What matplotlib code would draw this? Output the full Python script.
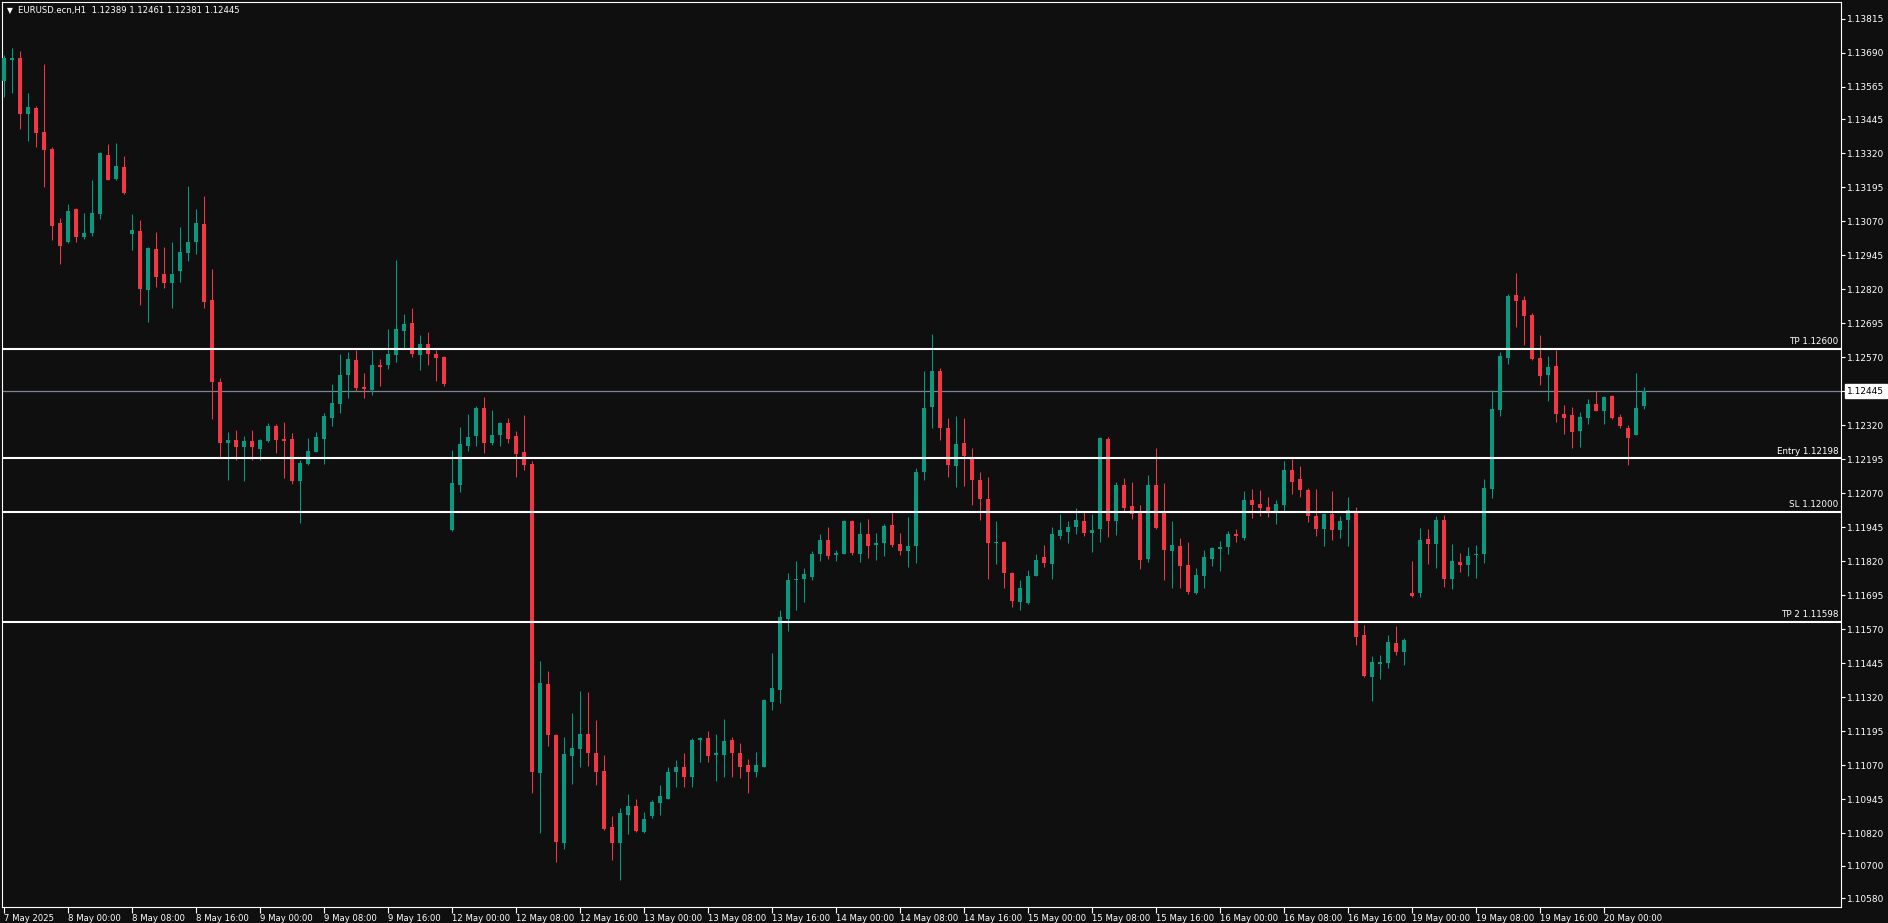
import numpy as np
import pandas as pd
import matplotlib
matplotlib.use("Agg")
import matplotlib.pyplot as plt
import matplotlib.transforms as mtransforms

symbol = "EURUSD.ecn,H1"

# hourly bars, 7 May 16:00 .. 20 May 05:00
opens = [
    1.13587, 1.13662, 1.13670, 1.13465, 1.13486, 1.13398, 1.13335, 1.13063, 1.12995, 1.13115,
    1.13010, 1.13028, 1.13098, 1.13313, 1.13226, 1.13269, 1.13021, 1.13034, 1.12818, 1.12968,
    1.12876, 1.12844, 1.12888, 1.12954, 1.12995, 1.13060, 1.12780, 1.12479, 1.12256, 1.12266,
    1.12241, 1.12262, 1.12234, 1.12262, 1.12317, 1.12269, 1.12269, 1.12116, 1.12179, 1.12223,
    1.12269, 1.12348, 1.12399, 1.12505, 1.12560, 1.12461, 1.12451, 1.12541, 1.12541, 1.12578,
    1.12666, 1.12696, 1.12578, 1.12619, 1.12582, 1.12571, 1.11935, 1.12100, 1.12243, 1.12280,
    1.12383, 1.12254, 1.12283, 1.12327, 1.12280, 1.12221, 1.12177, 1.11042, 1.11368, 1.11182,
    1.10785, 1.11105, 1.11131, 1.11186, 1.11116, 1.11050, 1.10844, 1.10785, 1.10888, 1.10921,
    1.10826, 1.10884, 1.10932, 1.10947, 1.11043, 1.11065, 1.11025, 1.11161, 1.11168, 1.11109,
    1.11109, 1.11161, 1.11113, 1.11069, 1.11043, 1.11065, 1.11304, 1.11348, 1.11609, 1.11749,
    1.11756, 1.11763, 1.11848, 1.11896, 1.11844, 1.11848, 1.11969, 1.11848, 1.11921, 1.11881,
    1.11885, 1.11954, 1.11884, 1.11859, 1.11874, 1.12146, 1.12388, 1.12520, 1.12310, 1.12168,
    1.12255, 1.12200, 1.12119, 1.12049, 1.11885, 1.11891, 1.11778, 1.11668, 1.11665, 1.11767,
    1.11834, 1.11808, 1.11914, 1.11929, 1.11944, 1.11966, 1.11925, 1.11940, 1.12269, 1.11969,
    1.12100, 1.12023, 1.11997, 1.11829, 1.12100, 1.11997, 1.11859, 1.11876, 1.11806, 1.11704,
    1.11767, 1.11829, 1.11866, 1.11873, 1.11920, 1.11906, 1.12045, 1.12030, 1.12019, 1.12006,
    1.12026, 1.12155, 1.12122, 1.12081, 1.11987, 1.11939, 1.11993, 1.11935, 1.11972, 1.12000,
    1.11548, 1.11395, 1.11443, 1.11447, 1.11519, 1.11487, 1.11703, 1.11703, 1.11901, 1.11883,
    1.11971, 1.11755, 1.11817, 1.11807, 1.11842, 1.11847, 1.12087, 1.12377, 1.12568, 1.12798,
    1.12780, 1.12725, 1.12567, 1.12506, 1.12537, 1.12361, 1.12357, 1.12300, 1.12348, 1.12398,
    1.12373, 1.12427, 1.12350, 1.12310, 1.12285, 1.12389,
]
highs = [
    1.13681, 1.13707, 1.13696, 1.13541, 1.13493, 1.13648, 1.13343, 1.13082, 1.13133, 1.13120,
    1.13100, 1.13221, 1.13324, 1.13354, 1.13357, 1.13310, 1.13097, 1.13074, 1.12975, 1.13030,
    1.12975, 1.12994, 1.13049, 1.13199, 1.13115, 1.13163, 1.12894, 1.12494, 1.12295, 1.12302,
    1.12280, 1.12302, 1.12268, 1.12328, 1.12325, 1.12332, 1.12291, 1.12192, 1.12273, 1.12295,
    1.12365, 1.12472, 1.12582, 1.12589, 1.12597, 1.12512, 1.12597, 1.12563, 1.12674, 1.12927,
    1.12729, 1.12751, 1.12652, 1.12663, 1.12597, 1.12575, 1.12229, 1.12314, 1.12361, 1.12390,
    1.12425, 1.12375, 1.12330, 1.12346, 1.12298, 1.12357, 1.12188, 1.11453, 1.11416, 1.11185,
    1.11175, 1.11263, 1.11343, 1.11339, 1.11236, 1.11109, 1.10884, 1.10914, 1.10965, 1.10947,
    1.10899, 1.10943, 1.10998, 1.11065, 1.11089, 1.11113, 1.11168, 1.11172, 1.11194, 1.11186,
    1.11241, 1.11175, 1.11153, 1.11094, 1.11120, 1.11312, 1.11484, 1.11642, 1.11778, 1.11822,
    1.11796, 1.11859, 1.11918, 1.11947, 1.11862, 1.11973, 1.11972, 1.11965, 1.11976, 1.11925,
    1.11958, 1.11998, 1.11924, 1.11983, 1.12163, 1.12520, 1.12656, 1.12531, 1.12347, 1.12354,
    1.12347, 1.12237, 1.12148, 1.12130, 1.11968, 1.11895, 1.11780, 1.11749, 1.11789, 1.11845,
    1.11881, 1.11944, 1.11995, 1.11966, 1.12014, 1.11999, 1.11992, 1.12278, 1.12276, 1.12111,
    1.12126, 1.12111, 1.12026, 1.12137, 1.12236, 1.12107, 1.11968, 1.11905, 1.11890, 1.11796,
    1.11861, 1.11872, 1.11894, 1.11931, 1.11938, 1.12078, 1.12085, 1.12081, 1.12056, 1.12045,
    1.12188, 1.12195, 1.12170, 1.12089, 1.12086, 1.11998, 1.12078, 1.11986, 1.12056, 1.12019,
    1.11585, 1.11471, 1.11475, 1.11548, 1.11581, 1.11537, 1.11820, 1.11942, 1.11938, 1.11986,
    1.11989, 1.11883, 1.11850, 1.11872, 1.11879, 1.12122, 1.12449, 1.12589, 1.12802, 1.12879,
    1.12795, 1.12732, 1.12651, 1.12574, 1.12596, 1.12394, 1.12387, 1.12368, 1.12416, 1.12446,
    1.12427, 1.12431, 1.12361, 1.12321, 1.12512, 1.12461,
]
lows = [
    1.13528, 1.13542, 1.13409, 1.13366, 1.13344, 1.13197, 1.12999, 1.12914, 1.12990, 1.12995,
    1.13005, 1.13017, 1.13079, 1.13220, 1.13223, 1.13170, 1.12965, 1.12763, 1.12701, 1.12829,
    1.12826, 1.12749, 1.12848, 1.12925, 1.12951, 1.12752, 1.12341, 1.12204, 1.12119, 1.12193,
    1.12116, 1.12193, 1.12193, 1.12258, 1.12219, 1.12127, 1.12102, 1.11962, 1.12175, 1.12220,
    1.12179, 1.12318, 1.12366, 1.12418, 1.12447, 1.12418, 1.12432, 1.12465, 1.12528, 1.12552,
    1.12604, 1.12571, 1.12523, 1.12541, 1.12483, 1.12464, 1.11930, 1.12074, 1.12225, 1.12243,
    1.12217, 1.12247, 1.12243, 1.12254, 1.12129, 1.12155, 1.10969, 1.10822, 1.11142, 1.10715,
    1.10763, 1.11002, 1.11064, 1.11068, 1.10998, 1.10833, 1.10723, 1.10649, 1.10818, 1.10825,
    1.10822, 1.10877, 1.10888, 1.10945, 1.10991, 1.10988, 1.10988, 1.11083, 1.11083, 1.11010,
    1.11025, 1.11025, 1.11021, 1.10966, 1.11028, 1.11062, 1.11271, 1.11297, 1.11565, 1.11642,
    1.11671, 1.11749, 1.11822, 1.11829, 1.11822, 1.11845, 1.11844, 1.11818, 1.11833, 1.11826,
    1.11840, 1.11873, 1.11841, 1.11797, 1.11812, 1.12120, 1.12308, 1.12267, 1.12131, 1.12091,
    1.12098, 1.12025, 1.11973, 1.11753, 1.11808, 1.11720, 1.11650, 1.11642, 1.11662, 1.11765,
    1.11800, 1.11756, 1.11903, 1.11885, 1.11918, 1.11914, 1.11852, 1.11892, 1.11910, 1.11917,
    1.12002, 1.11976, 1.11792, 1.11818, 1.11940, 1.11752, 1.11723, 1.11723, 1.11701, 1.11700,
    1.11723, 1.11803, 1.11785, 1.11848, 1.11892, 1.11899, 1.11980, 1.11987, 1.11983, 1.11958,
    1.12004, 1.12068, 1.12057, 1.11965, 1.11914, 1.11875, 1.11897, 1.11905, 1.11875, 1.11513,
    1.11395, 1.11307, 1.11388, 1.11428, 1.11476, 1.11439, 1.11689, 1.11689, 1.11811, 1.11796,
    1.11726, 1.11719, 1.11781, 1.11766, 1.11759, 1.11814, 1.12054, 1.12355, 1.12546, 1.12682,
    1.12616, 1.12561, 1.12469, 1.12410, 1.12333, 1.12289, 1.12237, 1.12241, 1.12326, 1.12373,
    1.12326, 1.12344, 1.12311, 1.12175, 1.12285, 1.12381,
]
closes = [
    1.13670, 1.13670, 1.13465, 1.13490, 1.13395, 1.13333, 1.13054, 1.12980, 1.13108, 1.13010,
    1.13027, 1.13100, 1.13321, 1.13223, 1.13273, 1.13175, 1.13038, 1.12822, 1.12972, 1.12866,
    1.12844, 1.12876, 1.12957, 1.12994, 1.13063, 1.12774, 1.12480, 1.12256, 1.12266, 1.12241,
    1.12262, 1.12238, 1.12266, 1.12317, 1.12266, 1.12262, 1.12116, 1.12181, 1.12225, 1.12277,
    1.12354, 1.12402, 1.12505, 1.12563, 1.12458, 1.12454, 1.12541, 1.12535, 1.12582, 1.12674,
    1.12692, 1.12582, 1.12619, 1.12582, 1.12567, 1.12472, 1.12108, 1.12251, 1.12276, 1.12383,
    1.12254, 1.12283, 1.12327, 1.12269, 1.12214, 1.12173, 1.11046, 1.11372, 1.11182, 1.10789,
    1.11112, 1.11134, 1.11186, 1.11116, 1.11046, 1.10837, 1.10785, 1.10895, 1.10921, 1.10829,
    1.10873, 1.10936, 1.10958, 1.11043, 1.11065, 1.11025, 1.11164, 1.11168, 1.11102, 1.11113,
    1.11157, 1.11113, 1.11065, 1.11043, 1.11069, 1.11308, 1.11355, 1.11613, 1.11749, 1.11756,
    1.11771, 1.11848, 1.11896, 1.11840, 1.11848, 1.11969, 1.11851, 1.11921, 1.11877, 1.11888,
    1.11951, 1.11881, 1.11859, 1.11876, 1.12148, 1.12384, 1.12520, 1.12308, 1.12172, 1.12251,
    1.12205, 1.12120, 1.12047, 1.11885, 1.11891, 1.11778, 1.11672, 1.11723, 1.11764, 1.11826,
    1.11812, 1.11918, 1.11933, 1.11947, 1.11970, 1.11925, 1.11933, 1.12273, 1.11969, 1.12100,
    1.12017, 1.11995, 1.11825, 1.12100, 1.11943, 1.11862, 1.11879, 1.11803, 1.11708, 1.11769,
    1.11835, 1.11868, 1.11872, 1.11920, 1.11914, 1.12045, 1.12028, 1.12017, 1.12006, 1.12030,
    1.12155, 1.12112, 1.12083, 1.11987, 1.11939, 1.11993, 1.11935, 1.11967, 1.12008, 1.11542,
    1.11399, 1.11449, 1.11447, 1.11523, 1.11487, 1.11530, 1.11693, 1.11897, 1.11883, 1.11971,
    1.11755, 1.11820, 1.11807, 1.11839, 1.11846, 1.12089, 1.12379, 1.12574, 1.12795, 1.12778,
    1.12722, 1.12563, 1.12502, 1.12534, 1.12362, 1.12348, 1.12296, 1.12350, 1.12398, 1.12373,
    1.12424, 1.12348, 1.12318, 1.12274, 1.12383, 1.12445,
]

level_names = ["TP", "Entry", "SL", "TP 2"]
level_prices = [1.12600, 1.12198, 1.12000, 1.11598]

price_ticks = [1.13815, 1.13690, 1.13565, 1.13445, 1.13320, 1.13195, 1.13070, 1.12945,
               1.12820, 1.12695, 1.12570, 1.12445, 1.12320, 1.12195, 1.12070, 1.11945,
               1.11820, 1.11695, 1.11570, 1.11445, 1.11320, 1.11195, 1.11070, 1.10945,
               1.10820, 1.10700, 1.10580]

BG = "#0f0f0f"
BULL = "#089981"
BEAR = "#f23645"
FG = "#ffffff"
FONT = "DejaVu Sans"

# trading hours only (no weekend)
times = pd.date_range("2025-05-07 16:00", "2025-05-20 05:00", freq="h")
times = times[times.dayofweek < 5]

o = np.array(opens)
h = np.array(highs)
l = np.array(lows)
c = np.array(closes)
x = np.arange(len(o))

W, H = 1888, 923
fig = plt.figure(figsize=(W / 100, H / 100), dpi=100, facecolor=BG)
ax = fig.add_axes([2 / W, 16 / H, 1839 / W, 905 / H])
ax.set_facecolor(BG)

col = np.where(c >= o, BULL, BEAR)
ax.vlines(x, l, h, colors=col, linewidth=0.75, zorder=3)
body_lo = np.minimum(o, c)
body_h = np.maximum(np.abs(c - o), 0.00005)
ax.bar(x, body_h, bottom=body_lo, width=0.62, color=col, linewidth=0, zorder=4)

ax.set_xlim(-0.25, 229.625)
ax.set_ylim(1.105485, 1.138757)

# current bid line
bid = c[-1]
ax.axhline(bid, color="#7d8590", linewidth=0.9, zorder=2)

blend = mtransforms.blended_transform_factory(ax.transAxes, ax.transData)
for name, p in zip(level_names, level_prices):
    ax.axhline(p, color=FG, linewidth=1.5, zorder=5)
    ax.text(0.9985, p + 0.00010, f"{name} {p:.5f}", transform=blend, ha="right",
            va="bottom", color=FG, fontsize=6.3, family=FONT, zorder=6)

# axes styling
for s in ax.spines.values():
    s.set_color(FG)
    s.set_linewidth(0.8)
ax.yaxis.tick_right()
ax.set_yticks(price_ticks)
ax.set_yticklabels([f"{p:.5f}" for p in price_ticks])
ax.tick_params(axis="y", colors=FG, labelcolor=FG, length=3, width=0.8, pad=1.5,
               labelsize=6.5)

# first bar gets the date, then every 8 hours
tick_pos = [0] + [i for i, t in enumerate(times) if t.hour % 8 == 0 and i > 0]
tick_lab = [f"{times[0].day} May {times[0].year}"] + \
           [f"{times[i].day} May {times[i]:%H:%M}" for i in tick_pos[1:]]
ax.set_xticks(tick_pos)
ax.set_xticklabels(tick_lab)
ax.tick_params(axis="x", colors=FG, labelcolor=FG, length=4, width=0.8, pad=1,
               labelsize=6.1)
for lbl in ax.get_xticklabels():
    lbl.set_ha("left")
for lbl in ax.get_xticklabels() + ax.get_yticklabels():
    lbl.set_family(FONT)

# bid price box on the axis
ax.text(1.0035, bid, f"{bid:.5f}", transform=blend, ha="left", va="center",
        color="black", fontsize=6.5, family=FONT, zorder=10, clip_on=False,
        bbox=dict(facecolor="white", edgecolor="white", pad=1.6))

# header
fig.text(7 / W, 1 - 11 / H, "\u25bc", color=FG, fontsize=5.5, va="center", ha="left",
         family=FONT)
fig.text(18 / W, 1 - 11 / H,
         f"{symbol}  {o[-1]:.5f} {h[-1]:.5f} {l[-1]:.5f} {c[-1]:.5f}",
         color=FG, fontsize=6.1, va="center", ha="left", family=FONT)

fig.savefig("out.png", dpi=100, facecolor=BG)
